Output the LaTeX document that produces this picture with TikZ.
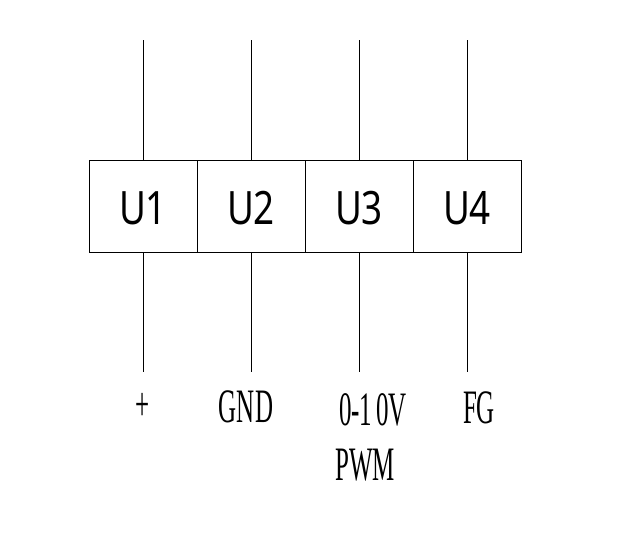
\documentclass[tikz,border=0pt]{standalone}
\usepackage{fontspec}
\setmainfont{Liberation Serif}
\newfontfamily\usans{Noto Sans}
\begin{document}
\begin{tikzpicture}[x=1pt,y=-1pt,
  box/.style={draw,line width=0.6pt,minimum width=108pt,minimum height=92pt,inner sep=0pt},
  utxt/.style={font=\usans\fontsize{46}{46}\selectfont,xscale=0.8,inner sep=0pt},
  wire/.style={line width=0.6pt},
  lab/.style={font=\fontsize{48}{48}\selectfont,xscale=0.52,inner sep=0pt}]
\useasboundingbox (0,0) rectangle (622,554);
\foreach \n/\x/\t in {u1/143/U1,u2/251/U2,u3/359/U3,u4/467/U4}{
  \node[box] (\n) at (\x,206) {};
  \node[utxt] (\n txt) at (\x,208) {\t};
  \coordinate (\n t) at (\x,40);
  \coordinate (\n b) at (\x,372);
  \draw[wire] (\n t) -- (\n.north);
  \draw[wire] (\n.south) -- (\n b);
}
\node[lab] (l1) at (143,407) {+};
\node[lab] (l2) at (246,407) {GND};
\node[lab] (l3) at (373,410) {0-1\,0V};
\node[lab] (l4) at (479,408) {FG};
\node[lab] (l5) at (365,465) {PWM};
\end{tikzpicture}
\end{document}
